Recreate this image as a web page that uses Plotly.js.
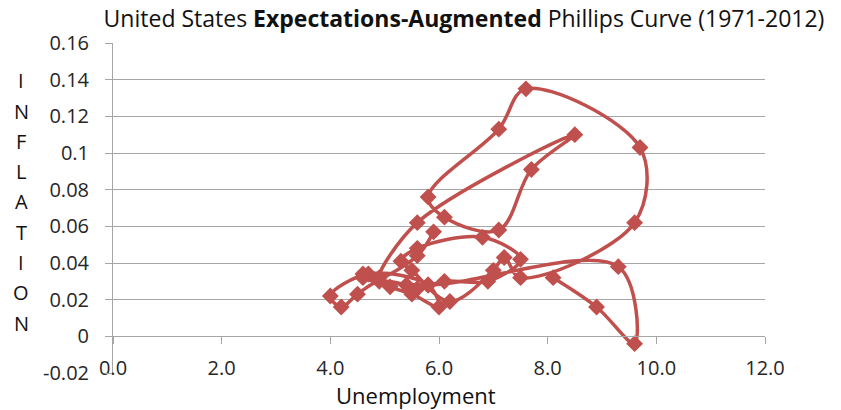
<!DOCTYPE html>
<html>
<head>
<meta charset="utf-8">
<script src="https://cdn.plot.ly/plotly-3.0.1.min.js"></script>
<style>html,body{margin:0;padding:0;background:#fff;}#chart{width:841px;height:410px;}</style>
</head>
<body>
<div id="chart"></div>
<script>
// Unemployment (x) and inflation (y), one point per year, in path order
const unemployment = [5.9, 5.6, 4.9, 5.6, 8.5, 7.7, 7.1, 6.1, 5.8, 7.1, 7.6, 9.7, 9.6, 7.5, 7.2, 7.0, 6.2, 5.5, 5.3, 5.6, 6.8, 7.5, 6.9, 6.1, 5.6, 5.4, 4.9, 4.5, 4.2, 4.0, 4.7, 5.8, 6.0, 5.5, 5.1, 4.6, 4.6, 5.8, 9.3, 9.6, 8.9, 8.1];
const inflation = [0.057, 0.044, 0.032, 0.062, 0.110, 0.091, 0.058, 0.065, 0.076, 0.113, 0.135, 0.103, 0.062, 0.032, 0.043, 0.036, 0.019, 0.036, 0.041, 0.048, 0.054, 0.042, 0.030, 0.030, 0.026, 0.028, 0.030, 0.023, 0.016, 0.022, 0.034, 0.028, 0.016, 0.023, 0.027, 0.034, 0.032, 0.028, 0.038, -0.004, 0.016, 0.032];

const xTickVals = [0, 2, 4, 6, 8, 10, 12];
const xTickText = ["0.0", "2.0", "4.0", "6.0", "8.0", "10.0", "12.0"];
const yTickVals = [-0.02, 0, 0.02, 0.04, 0.06, 0.08, 0.1, 0.12, 0.14, 0.16];
const yTickText = ["-0.02", "0", "0.02", "0.04", "0.06", "0.08", "0.1", "0.12", "0.14", "0.16"];

const titleText = 'United States <b>Expectations-Augmented</b> Phillips Curve (1971-2012)';
const xTitle = 'Unemployment';
const yTitle = 'INFLATION';

const FONT = '"Open Sans", "Liberation Sans", sans-serif';
const RED = '#C0504D';
const GRID = '#a6a6a6';

const H = 410, T = 43, B = 37;
const plotH = H - T - B;

const annotations = [];
// stacked upright letters for the y title
const letters = yTitle.split('');
const firstY = 80.7, stepY = 30.3;
letters.forEach((ch, i) => {
  const py = firstY + i * stepY;
  annotations.push({
    text: ch, xref: 'paper', yref: 'paper',
    x: (21 - 113) / (841 - 113 - 76), y: (H - B - py) / plotH,
    xanchor: 'center', yanchor: 'middle', showarrow: false,
    font: {family: FONT, size: 20, color: '#111'}
  });
});
annotations.push({
  text: xTitle, xref: 'paper', yref: 'paper',
  x: (416 - 113) / (841 - 113 - 76), y: (H - B - 395) / plotH,
  xanchor: 'center', yanchor: 'middle', showarrow: false,
  font: {family: FONT, size: 22, color: '#111'}
});

const trace = {
  x: unemployment, y: inflation,
  type: 'scatter', mode: 'lines+markers',
  line: {color: RED, width: 3.5, shape: 'spline', smoothing: 1},
  marker: {symbol: 'diamond', size: 13, color: RED},
  hoverinfo: 'x+y'
};

const layout = {
  width: 841, height: 410,
  paper_bgcolor: '#fff', plot_bgcolor: '#fff',
  margin: {l: 113, r: 76, t: T, b: B, pad: 0},
  showlegend: false,
  title: {text: titleText, x: 464 / 841, xref: 'container', xanchor: 'center',
          y: 1 - 19 / 410, yref: 'container', yanchor: 'middle',
          font: {family: FONT, size: 23, color: '#111'}},
  xaxis: {
    range: [0, 12], tickvals: xTickVals, ticktext: xTickText,
    showgrid: false, zeroline: false,
    showline: true, linecolor: GRID, linewidth: 1,
    ticks: 'outside', ticklen: 7, tickcolor: GRID, tickwidth: 1,
    anchor: 'free', position: 1 / 9,
    ticklabelstandoff: 7,
    tickfont: {family: FONT, size: 20, color: '#262626'}
  },
  yaxis: {
    range: [-0.02, 0.16], tickvals: yTickVals, ticktext: yTickText,
    showgrid: true, gridcolor: GRID, gridwidth: 1, zeroline: false,
    showline: true, linecolor: GRID, linewidth: 1,
    ticks: 'outside', ticklen: 7, tickcolor: GRID, tickwidth: 1,
    ticklabelstandoff: 12,
    tickfont: {family: FONT, size: 20, color: '#262626'}
  },
  annotations: annotations
};

Plotly.newPlot('chart', [trace], layout, {displayModeBar: false, staticPlot: true});
</script>
</body>
</html>
